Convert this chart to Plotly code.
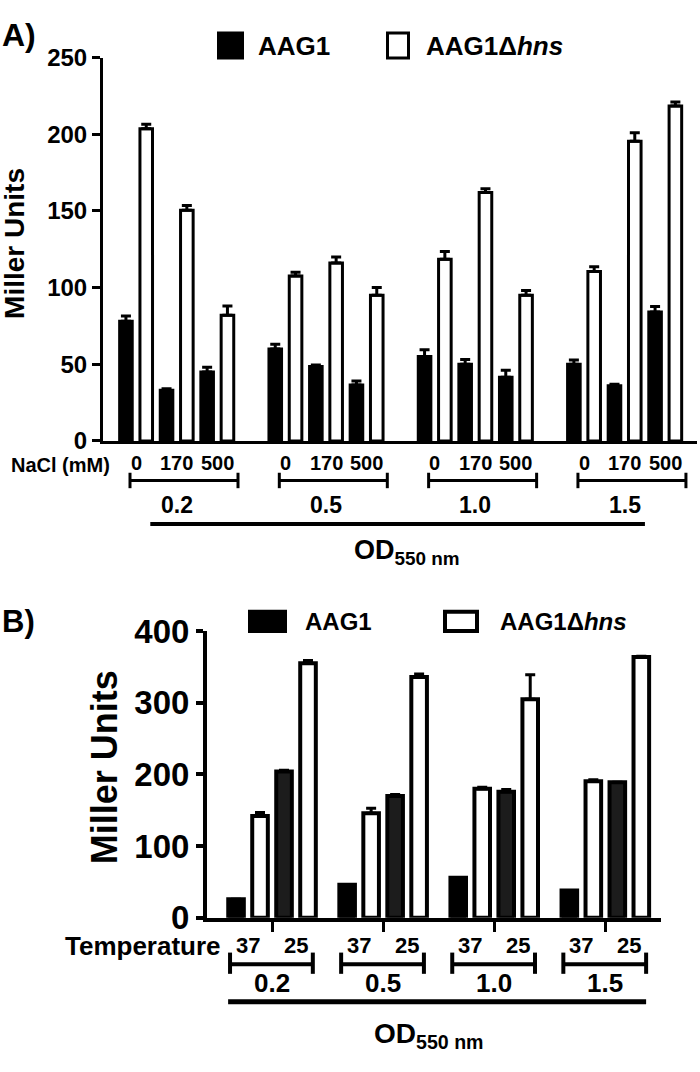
import plotly.graph_objects as go

# ---------------- data ----------------
od_levels = ["0.2", "0.5", "1.0", "1.5"]
nacl_levels = ["0", "170", "500"]
temp_levels = ["37", "25"]

# Panel A: Miller units vs NaCl (per OD group: 0, 170, 500 mM)
aag1_nacl = [78, 33, 45, 60, 48.5, 36.5, 55, 50, 41.5, 50, 36, 84]
aag1_nacl_err = [3.5, 1, 3, 3, 1, 2.5, 4.5, 3, 4.5, 2.7, 1, 3.7]
hns_nacl = [203.5, 150.5, 82, 107.5, 116, 95, 118.5, 162, 95, 110.5, 195.5, 218.5]
hns_nacl_err = [3, 3, 6, 2.5, 4, 5, 5, 2.5, 3, 3, 5.5, 2.5]

# Panel B: Miller units vs temperature (per OD group: 37, 25 C)
aag1_temp = [26, 204, 46, 170, 56, 176, 38, 189]
aag1_temp_err = [0, 2, 0, 2, 0, 3, 0, 0]
hns_temp = [142, 355, 146, 336, 180, 305, 190.5, 364]
hns_temp_err = [5, 4, 7, 4, 2, 34, 2, 1]

FONT = "Liberation Sans, Arial, Helvetica, sans-serif"
W, H = 700, 1072


def px(v):
    return v / W


def py(v):
    return 1 - v / H


# layout spacing (in bar-pitch units)
GA = 7.355   # group spacing panel A
GB = 4.63    # group spacing panel B

nA = len(nacl_levels)
nB = len(temp_levels)

xa_black, xa_white = [], []
for g in range(len(od_levels)):
    for c in range(nA):
        xa_black.append(g * GA + 2 * c)
        xa_white.append(g * GA + 2 * c + 1)

xb_black, xb_white = [], []
for g in range(len(od_levels)):
    for c in range(nB):
        xb_black.append(g * GB + 2 * c)
        xb_white.append(g * GB + 2 * c + 1)

fig = go.Figure()

errA = dict(type="data", symmetric=False, color="black", thickness=3, width=5)
errB = dict(type="data", symmetric=False, color="black", thickness=3, width=5)

fig.add_trace(go.Bar(
    x=xa_black, y=aag1_nacl, width=0.62,
    marker=dict(color="black", line=dict(color="black", width=3)),
    error_y=dict(errA, array=aag1_nacl_err, arrayminus=[0] * len(aag1_nacl)),
    xaxis="x", yaxis="y", showlegend=False, name="AAG1"))
fig.add_trace(go.Bar(
    x=xa_white, y=hns_nacl, width=0.62,
    marker=dict(color="white", line=dict(color="black", width=3)),
    error_y=dict(errA, array=hns_nacl_err, arrayminus=[0] * len(hns_nacl)),
    xaxis="x", yaxis="y", showlegend=False, name="AAG1Δhns"))

colsB = ["black" if i % nB == 0 else "#1c1c1c" for i in range(len(aag1_temp))]
fig.add_trace(go.Bar(
    x=xb_black, y=aag1_temp, width=0.65,
    marker=dict(color=colsB, line=dict(color="black", width=4)),
    error_y=dict(errB, array=aag1_temp_err, arrayminus=[0] * len(aag1_temp)),
    xaxis="x2", yaxis="y2", showlegend=False, name="AAG1"))
fig.add_trace(go.Bar(
    x=xb_white, y=hns_temp, width=0.65,
    marker=dict(color="white", line=dict(color="black", width=4)),
    error_y=dict(errB, array=hns_temp_err, arrayminus=[0] * len(hns_temp)),
    xaxis="x2", yaxis="y2", showlegend=False, name="AAG1Δhns"))

group_centers_B = [g * GB + (2 * nB - 1) / 2 for g in range(len(od_levels))]

fig.update_layout(
    width=W, height=H, margin=dict(l=0, r=0, t=0, b=0),
    paper_bgcolor="white", plot_bgcolor="white",
    font=dict(family=FONT, color="black"),
    barmode="overlay",
    xaxis=dict(domain=[px(103), px(697)], range=[-1.13, 28.13], showline=True,
               linewidth=3, linecolor="black", showticklabels=False, ticks="",
               showgrid=False, zeroline=False, anchor="y"),
    yaxis=dict(domain=[py(438), py(41)], range=[0, 250], showline=True,
               linewidth=3, linecolor="black", ticks="outside", ticklen=8,
               tickwidth=3, tickcolor="black", tickvals=[0, 50, 100, 150, 200, 250],
               tickfont=dict(family=FONT, size=24, weight="bold"),
               showgrid=False, zeroline=False, anchor="x"),
    xaxis2=dict(domain=[px(207), px(661)], range=[-1.21, 17.71], showline=True,
                linewidth=4, linecolor="black", showticklabels=False,
                ticks="outside", ticklen=10, tickwidth=3, tickcolor="black",
                tickvals=group_centers_B, showgrid=False, zeroline=False,
                anchor="y2"),
    yaxis2=dict(domain=[py(932), py(635)], range=[0, 400], showline=True,
                linewidth=4, linecolor="black", ticks="outside", ticklen=7,
                tickwidth=4, tickcolor="black", tickvals=[0, 100, 200, 300, 400],
                tickfont=dict(family=FONT, size=33, weight="bold"),
                showgrid=False, zeroline=False, anchor="x2"),
)

ann = []
shapes = []


def text(x, y, s, size, xref="paper", xanchor="center", yanchor="middle"):
    ann.append(dict(x=x, y=y, xref=xref, yref="paper", text=s, showarrow=False,
                    xanchor=xanchor, yanchor=yanchor,
                    font=dict(family=FONT, size=size, color="black", weight="bold")))


def line(x0, x1, y0, y1, w, xref="paper"):
    shapes.append(dict(type="line", x0=x0, x1=x1, y0=y0, y1=y1, xref=xref,
                       yref="paper", line=dict(color="black", width=w)))


# ---- panel labels
text(0, py(18), "A)", 32, xanchor="left")
text(0, py(625), "B)", 31, xanchor="left")

# ---- y axis titles
ann.append(dict(x=px(15), y=py(234), xref="paper", yref="paper", text="Miller Units",
                textangle=-90, showarrow=False, xanchor="center", yanchor="middle",
                font=dict(family=FONT, size=28, weight="bold")))
ann.append(dict(x=px(104), y=py(776), xref="paper", yref="paper", text="Miller Units",
                textangle=-90, showarrow=False, xanchor="center", yanchor="middle",
                font=dict(family=FONT, size=36, weight="bold")))

# ---- legends (drawn as boxes + text)
shapes.append(dict(type="rect", xref="paper", yref="paper", x0=px(218), x1=px(243),
                   y0=py(42), y1=py(15), fillcolor="black", line=dict(color="black", width=2)))
text(px(256), py(29), "AAG1", 26, xanchor="left")
shapes.append(dict(type="rect", xref="paper", yref="paper", x0=px(387.5), x1=px(408.5),
                   y0=py(41.5), y1=py(15.5), fillcolor="white", line=dict(color="black", width=3)))
text(px(424), py(29), "AAG1Δ<i>hns</i>", 26, xanchor="left")

shapes.append(dict(type="rect", xref="paper", yref="paper", x0=px(249), x1=px(286),
                   y0=py(636), y1=py(614), fillcolor="black", line=dict(color="black", width=2)))
text(px(303), py(625), "AAG1", 24, xanchor="left")
shapes.append(dict(type="rect", xref="paper", yref="paper", x0=px(445), x1=px(477),
                   y0=py(635), y1=py(615), fillcolor="white", line=dict(color="black", width=4)))
text(px(498), py(625), "AAG1Δ<i>hns</i>", 24, xanchor="left")

# ---- panel A x labels
text(px(112), py(463), "NaCl (mM)", 20, xanchor="right")
for g, od in enumerate(od_levels):
    for c, lab in enumerate(nacl_levels):
        text(g * GA + 2 * c + 0.5, py(461), lab, 20, xref="x")
    x0 = g * GA + 0.2
    x1 = g * GA + 2 * nA - 0.48
    line(x0, x1, py(479), py(479), 3, xref="x")
    line(x0, x0, py(471), py(487), 3, xref="x")
    line(x1, x1, py(471), py(487), 3, xref="x")
    text(g * GA + (2 * nA - 1) / 2, py(504), od, 23, xref="x")
line(1.2, (len(od_levels) - 1) * GA + 3.5, py(524), py(524), 4, xref="x")
text(((len(od_levels) - 1) * GA + 2 * nA - 1) / 2 + 0.3, py(553),
     "OD<sub>550 nm</sub>", 27, xref="x")

# ---- panel B x labels
text(px(223), py(961), "Temperature", 26, xanchor="right")
for g, od in enumerate(od_levels):
    for c, lab in enumerate(temp_levels):
        text(g * GB + 2 * c + 0.5, py(961), lab, 22, xref="x2")
    x0 = g * GB - 0.25
    x1 = g * GB + 2 * nB - 0.8
    line(x0, x1, py(980), py(980), 4, xref="x2")
    line(x0, x0, py(968), py(990), 4, xref="x2")
    line(x1, x1, py(968), py(990), 4, xref="x2")
    text(g * GB + (2 * nB - 1) / 2, py(1000), od, 26, xref="x2")
line(-0.33, (len(od_levels) - 1) * GB + 2 * nB - 0.8, py(1019), py(1019), 5, xref="x2")
text(((len(od_levels) - 1) * GB + 2 * nB - 1) / 2 - 0.4, py(1054),
     "OD<sub>550 nm</sub>", 28, xref="x2")

fig.update_layout(annotations=ann, shapes=shapes)
fig.write_html("out.html", config={"displayModeBar": False},
               post_script="document.body.style.margin='0px';document.body.style.overflow='hidden';")
